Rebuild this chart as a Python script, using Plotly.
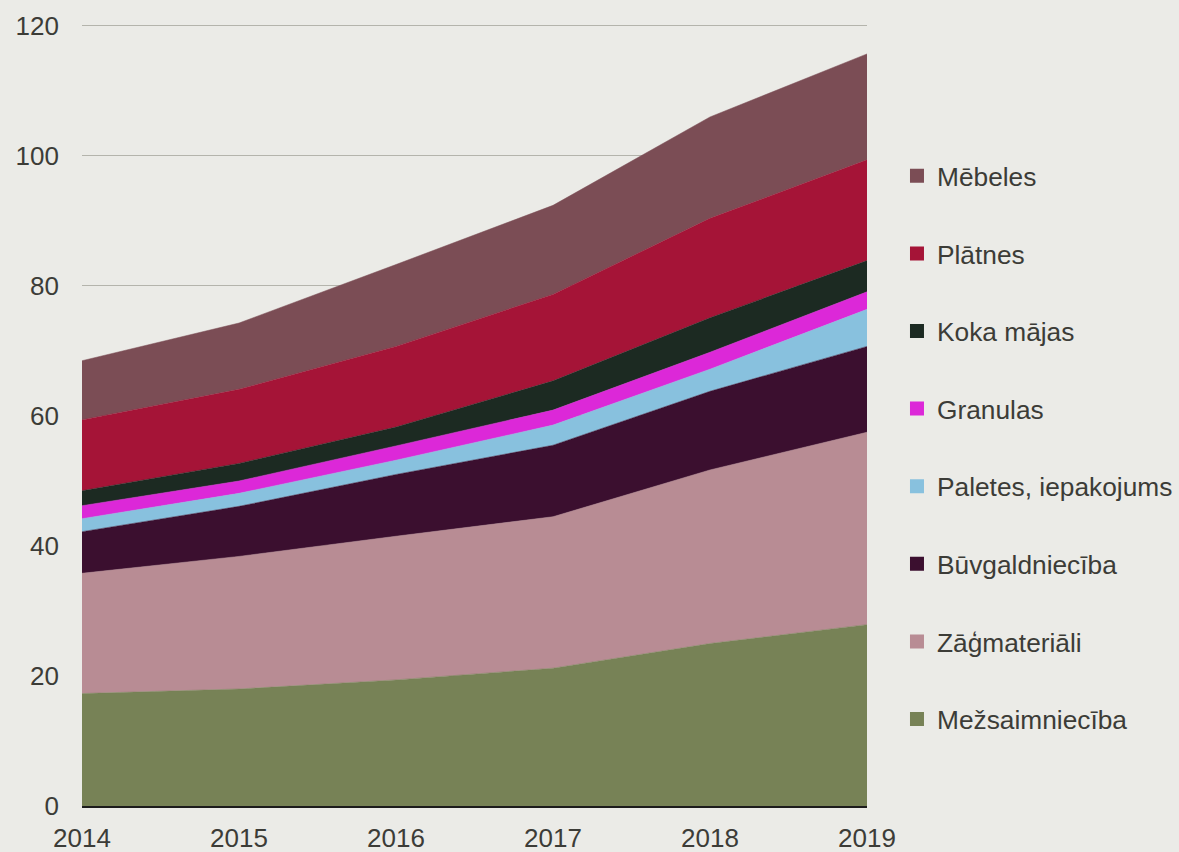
import plotly.graph_objects as go

years = [2014, 2015, 2016, 2017, 2018, 2019]

series_names = ["Mežsaimniecība", "Zāģmateriāli", "Būvgaldniecība", "Paletes, iepakojums",
                "Granulas", "Koka mājas", "Plātnes", "Mēbeles"]

mezsaimnieciba = [17.3, 18.0, 19.4, 21.2, 25.0, 27.9]
zagmateriali = [18.5, 20.4, 22.1, 23.3, 26.7, 29.6]
buvgaldnieciba = [6.4, 7.7, 9.5, 11.0, 12.1, 13.2]
paletes = [2.0, 2.0, 2.2, 3.1, 3.4, 5.7]
granulas = [2.0, 1.9, 2.2, 2.3, 2.6, 2.7]
koka_majas = [2.3, 2.7, 2.9, 4.5, 5.3, 4.8]
platnes = [10.9, 11.4, 12.4, 13.3, 15.3, 15.5]
mebeles = [9.1, 10.2, 12.6, 13.7, 15.6, 16.3]

series_values = [mezsaimnieciba, zagmateriali, buvgaldnieciba, paletes,
                 granulas, koka_majas, platnes, mebeles]

colors = ["#778256", "#B88C94", "#3B0F2F", "#88C1DE",
          "#DC28D8", "#1C2A22", "#A51437", "#7B4D55"]

y_ticks = [0, 20, 40, 60, 80, 100, 120]

BG = "#EBEBE7"
TXT = "#3C3C37"
FONT = "Liberation Sans, Arial, sans-serif"

fig = go.Figure()
for name, vals, col in zip(series_names, series_values, colors):
    fig.add_trace(go.Scatter(
        x=years, y=vals, name=name, stackgroup="one", mode="lines",
        line=dict(width=0.5, color=col), fillcolor=col, showlegend=False,
        hoverinfo="x+y+name"))

# legend entries (square swatches), top to bottom = last series first
order = list(range(len(series_names)))[::-1]
for rank, i in enumerate(order):
    fig.add_trace(go.Scatter(
        x=[None], y=[None], name=series_names[i], mode="markers",
        marker=dict(symbol="square", size=14, color=colors[i]),
        legendgroup="g%d" % rank, showlegend=True))

fig.update_layout(
    width=1179, height=852,
    paper_bgcolor=BG, plot_bgcolor=BG,
    margin=dict(l=82, r=312, t=24, b=46, autoexpand=False),
    font=dict(family=FONT, size=26, color=TXT),
    legend=dict(
        x=1.0382, xanchor="left", y=0.836, yanchor="top",
        traceorder="grouped", tracegroupgap=40.4,
        font=dict(family=FONT, size=26.3, color=TXT),
        bgcolor="rgba(0,0,0,0)", itemwidth=30),
    showlegend=True,
)

fig.update_xaxes(
    range=[2014, 2019], tickmode="array", tickvals=years,
    ticktext=[str(y) for y in years], automargin=False,
    showgrid=False, zeroline=False,
    showline=False, ticks="", ticklabelstandoff=14,
    tickfont=dict(family=FONT, size=26, color=TXT))

fig.update_yaxes(
    range=[0, 120.3], tickmode="array", tickvals=y_ticks, automargin=False,
    showgrid=True, gridcolor="#B4B4AC", gridwidth=1.3,
    zeroline=True, zerolinecolor="#1C1C1C", zerolinewidth=4,
    showline=False, ticks="", ticklabelstandoff=22,
    tickfont=dict(family=FONT, size=26, color=TXT))

fig.write_html("out.html", config={"displayModeBar": False},
               post_script="document.body.style.margin='0';document.body.style.overflow='hidden';")
